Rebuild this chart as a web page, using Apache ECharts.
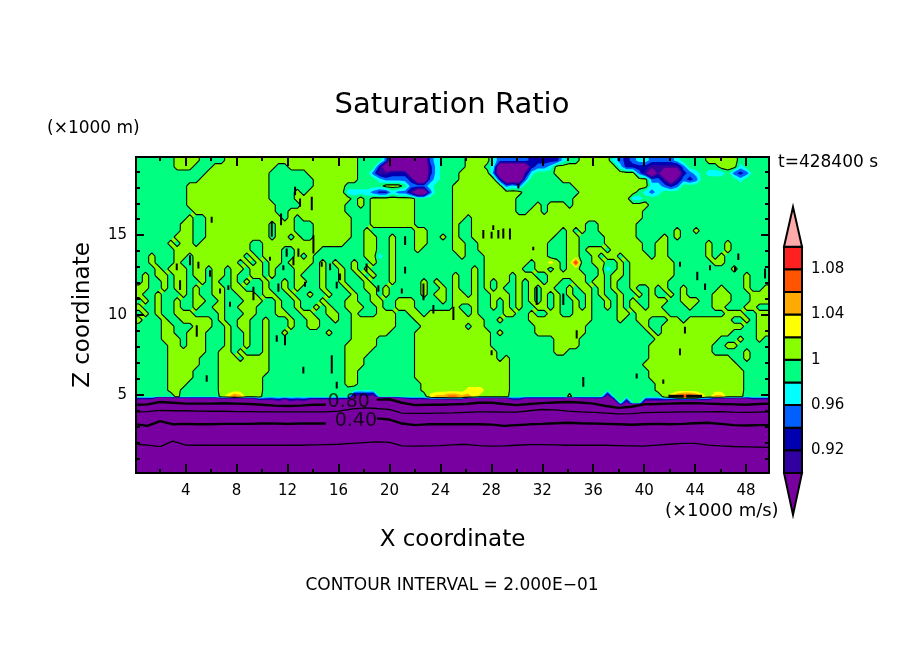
<!DOCTYPE html>
<html><head><meta charset="utf-8">
<style>html,body{margin:0;padding:0;background:#fff}#c{width:904px;height:654px}</style>
<script src="https://cdn.jsdelivr.net/npm/echarts@6/dist/echarts.min.js"></script></head>
<body><div id="c"></div>
<script>
// Supersaturated (>1) column ranges of each row, read top-down from the picture
const limeRows = [
"6-9 14-34 52-55 70-74 90-94","6-8 12-21 24-34 52-54 66-77 92-94","11-20 27-34 51-55 66-78","10-20 28-34 51-56 67-80",
"8-20 28-32 39-41 50-59 69-80","8-20 25 27-32 50-60 70-78","8-20 25 26-33 35 37-43 50-59 69-77","8-21 26-32 35 37-43 50-59 63 65-67 69-80",
"9-21 24-32 37-43 50-59 62-63 65-79","8 11-22 24 26-33 37-43 50-51 53-79","7-8 11-20 22-24 28-33 37-43 50 53-70 73-78",
"7-8 11-20 22-24 28-33 36 44-45 50 53-66 68 70 73-78 85 88","6-8 11-20 22-23 25 28-33 36-37 40 44-45 48 50 53-65 68-69 74-78 83 85",
"5 7-8 10-17 20-28 29-32 36-37 40 44-45 50-51 54-64 68-69 74-79 82-83 90 93","6-17 20-22 25-28 36-37 40 44 50-51 54-64 68-69 71-73 75-79 82-83 90 93",
"2 6-7 9-16 18 20-22 25 27 36-37 40 51 55-64 68-69 72 74-75 77-80 82-83 90 92","2 6 9-14 15 17 19 21-22 24 25-27 29 31 34 37 40 55-61 63-64 66 68-69 72-73 76 78-84 91-92",
"3 5 6-7 9-10 12-13 15-16 18-19 21 25-26 29 32 34 36 40 53 55-60 63-64 66 68-69 73-74 76 78-84 94",
"1 3-4 6-7 9-10 12-13 15 18-19 21 25 29 32 35 37 40 50 53 55 56-58 60-62 65-70 73 75-76 78-84 96",
"1 4 6-7 10 12 15 17 20 23 25-26 29 32 36 40 45 47 50 53 55 57 58 60 62-63 65-66 69-70 72-73 75 78-83 96",
"0-1 4 6-7 9 12-13 15-16 20 23 25 29 33 36-37 39 45 48 50 53 55 57 60 62 64 65 68 70 71 73 75 78 81 83 86 92 96 99",
"0 3 7 9 12-13 16-18 20-21 24 27 30 34 37 39 45 47-48 50-51 53 56 57-58 60 62 64 66 68 71 73 76 79 81 84 86 91-93 97-99",
"1 3 6 9-10 13 17-19 22 25 29 33-34 37-38 41-43 48 50-51 52-53 56 58 60 62 64 66 69 71 74 76 78 81-83 86-88 91-93 97-99",
"0 3 6 9 12-13 16-18 22 25 28 30 33-35 38 41-43 50 53 56 58 60 63 64 66 69 71 74 76 78-79 81-82 87 91-92 96-97",
"1 3 6-8 13 17-18 22-23 26-27 30-31 34 38-40 43-44 46-51 53 58-59 62 65-66 69-71 76-77 79-83 93-95 98-99",
"0 4 7-11 13 16-17 20 24 27-28 31 34-40 44-50 51-54 57 62-71 76 79-80 84-85 87-93 96 98-99",
"4-5 9-11 14 16-17 20 24 27-28 34-40 45-51 53-54 63-70 80 83-95 98-99","4-5 8-10 14 17 20 23 30 34-39 44-55 57 63-70 81 83-93 98-99",
"4-6 8-10 14 17 20 34-37 44-55 66-69 82-91 95 98","5-6 8-10 14 17 20 33-37 44-55 66-69 81-90 93-94","5-10 13-14 16 20 33-36 44-56 66-67 81-90 96",
"5-9 13-15 17-20 33-35 44-56 58 81-93 96","5-9 13-20 33-35 44-58 80-94","5-8 13-20 33-34 44-58 81-95","5-8 13-19 33-34 44-58 81-95",
"5-7 13-19 33-34 45-58 82-95","5-6 13-19 45-58 82-95","6 13-19 46-58 68 83-95"
];
// Patches: "row startColumn levelChars"; 0 purple,1 indigo,2 navy,3 blue,4 cyan,y yellow,o orange,r red-orange,s red
const patches = [
"0 39 300000034","1 38 2000000024","2 37 31122200024","3 38 4333320034","4 43 3334","5 33 44443224331003",
"0 56 433333222224","1 56 4000002334","2 56 3000014","3 57 20003","4 58 343",
"0 75 43234433334","1 76 42222111113","2 79 3101000234","3 81 33101323","4 81 44323","5 80 434","6 78 44",
"2 90 444","1 95 4","2 94 323","3 95 4","16 69 s","16 65 y","17 74 4","15 38 4",
"37 14 yro","37 46 yoorrooy","36 52 yyy","37 84 yrssry","37 91 oo"
];
const charValues = {"0":0.85,"1":0.91,"2":0.93,"3":0.95,"4":0.97,"y":1.03,"o":1.05,"r":1.07,"s":1.09};
const greenValue = 0.99, limeValue = 1.01, deepValue = 0.6, fringeValue = 0.981;
// Height of the dry layer's top for each column
const crestZ = [4.7,4.7,4.7,4.85,4.85,4.85,4.85,4.79,4.79,4.79,4.79,4.79,4.79,4.77,4.77,4.77,4.77,4.77,4.77,4.66,
4.66,4.68,4.6,4.7,4.58,4.66,4.6,4.7,4.7,4.7,4.7,4.7,4.7,4.7,4.93,4.95,4.9,4.96,4.88,4.83,
4.85,4.8,4.75,4.7,4.7,4.7,4.7,4.7,4.7,4.7,4.7,4.7,4.79,4.79,4.79,4.79,4.79,4.79,4.79,4.66,
4.66,4.77,4.77,4.77,4.77,4.77,4.77,4.77,4.81,4.81,4.77,4.77,4.77,4.77,4.97,4.7,4.35,4.56,4.45,4.45,
4.62,4.62,4.62,4.62,4.66,4.66,4.66,4.66,4.66,4.66,4.66,4.77,4.77,4.77,4.77,4.77,4.77,4.7,4.7,4.7];
// Contour lines in the dry layer
const lineX = [0.2,1,2,3,4,5,6,7,8,9,10,11,12,13,14,15,16,17,18,19,20,21,22,23,24,25,26,27,28,29,30,31,32,33,34,35,36,37,38,39,40,41,42,43,44,45,46,47,48,49,49.8];
const line080 = [4.38,4.4,4.55,4.5,4.45,4.45,4.45,4.47,4.45,4.42,4.38,4.32,4.3,4.32,4.38,4.38,null,null,null,4.7,4.72,4.5,4.35,4.38,4.38,4.4,4.42,4.5,4.5,4.42,4.35,4.42,4.48,4.52,4.55,4.52,4.45,4.3,4.18,4.25,4.4,4.42,4.45,4.47,4.48,4.45,4.42,4.4,4.38,4.42,4.45];
const line060 = [3.93,3.95,4.03,4,4,3.98,3.97,3.97,3.95,3.95,3.93,3.93,3.93,3.93,3.93,3.93,3.98,4.1,4.18,4.14,4.08,3.85,3.83,3.83,3.85,3.87,3.9,3.93,3.93,3.92,3.92,4,4.08,4.05,3.98,3.93,3.9,3.85,3.8,3.82,3.88,3.9,3.92,3.93,3.93,3.93,3.95,3.92,3.9,3.92,3.93];
const line040 = [3.15,3.05,3.35,3.15,3.18,3.15,3.15,3.18,3.18,3.18,3.2,3.2,3.18,3.2,3.2,3.2,null,null,null,3.52,3.45,3.2,3.1,3.15,3.15,3.15,3.15,3.15,3.13,3.05,3.1,3.15,3.18,3.22,3.25,3.22,3.2,3.18,3.15,3.12,3.15,3.18,3.15,3.18,3.22,3.25,3.18,3.1,3.08,3.1,3.1];
const line020 = [1.9,1.85,1.75,2.1,1.85,1.84,1.84,1.84,1.84,1.84,1.84,1.84,1.84,1.84,1.86,1.88,1.9,1.95,2.0,2.05,2.02,1.8,1.78,1.8,1.82,1.86,1.9,1.82,1.78,1.8,1.84,1.88,1.88,1.86,1.84,1.84,1.84,1.84,1.82,1.8,1.78,1.85,1.9,1.95,1.95,1.85,1.8,1.76,1.74,1.72,1.7];
const hotLine = [[41.9,4.91],[43.1,4.91],[43.1,null],[43.3,4.91],[44.55,4.91]];
// Tight closed contours that read as short black bars: [x, zTop, zBottom]
const tightLoops = [
[12.59,18.03,17.51],[13.9,17.41,16.57],[12.98,17.3,16.78],[11.49,16.36,15.63],[14.03,15.0,13.86],[10.76,15.84,14.9],[6.04,16.15,15.78],
[21.23,14.94,14.38],[15.34,13.23,12.81],[14.68,13.33,13.02],[10.62,13.65,13.4],[9.32,11.77,10.93],[11.28,11.98,11.45],[12.85,14.17,13.65],
[12.46,13.65,13.12],[11.67,13.12,12.81],[11.93,14.17,13.65],[3.3,13.23,12.81],[4.34,13.75,13.12],[5.0,13.33,12.92],[5.91,12.81,12.4],
[7.48,10.83,10.51],[15.86,12.08,11.66],[16.12,12.6,12.18],[19.13,11.87,11.45],[20.97,11.66,11.35],[22.67,11.98,10.93],[23.45,10.62,10.1],
[25.02,10.51,9.68],[18.2,13.23,12.71],[21.23,13.02,12.6],[13.37,12.08,11.77],[7.35,11.87,11.56],[3.56,12.18,11.56],[6.7,11.66,11.35],
[29.46,15.42,14.73],[28.94,15.42,14.8],[28.55,15.32,14.8],[28.15,15.63,15.32],[28.02,15.21,14.8],[27.37,15.32,14.8],[31.29,14.27,14.06],
[47.39,13.86,13.44],[45.17,13.12,12.81],[42.81,13.33,13.02],[47.13,13.02,12.71],[44.17,12.71,12.18],[44.78,11.98,11.56],[30.12,18.24,17.93],
[49.49,12.92,12.29],[31.56,11.77,10.62],[33.65,11.35,10.62],
[4.87,9.36,8.63],[5.65,6.23,5.81],[11.15,8.73,8.32],[11.8,8.73,8.11],[13.24,6.75,6.33],[15.86,5.81,5.39],[15.47,7.48,6.33],
[42.81,7.9,7.48],[28.02,7.79,7.48],[43.2,9.26,8.84],[35.22,6.12,5.5],[34.7,9.05,8.52],[39.41,6.33,6.02],[41.5,5.96,5.7]
];
const contourLabels = [[16.8,4.53,"0.80"],[17.36,3.36,"0.40"]];
// Colour levels
const fillLevels = [0,0.9,0.92,0.94,0.96,0.98,1,1.02,1.04,1.06,1.08,1.1];
const fillColors = ["#7800a0","#3000a0","#0000b0","#0060ff","#00ffff","#00ff80","#88ff00","#ffff00","#ffaa00","#ff5500","#ff2020","#ffaaaa"];
const barLow = 0.863, barHigh = 1.135;
const xMajor = [4,8,12,16,20,24,28,32,36,40,44,48];
const xMinor = [2,6,10,14,18,22,26,30,34,38,42,46];
const zMajor = [5,10,15];
const zMinor = [1,2,3,4,6,7,8,9,11,12,13,14,16,17,18,19];
const barTicks = [0.92,0.96,1,1.04,1.08];

const nCols = 100, nRows = 50, xMin = 0.1, xMax = 49.8, zMin = 0.1, zMax = 19.9, zTop = 19.887, zStep = 0.4, xStep = (xMax-xMin)/nCols;
const xc = c => xMin + (c+0.5)*xStep;
const zc = r => zTop - (r+0.5)*zStep;
const field = [];
for (let r=0;r<nRows;r++){ field.push(new Array(nCols).fill(greenValue)); }
limeRows.forEach((row,r)=>{ row.split(" ").forEach(t=>{ const p=t.split("-").map(Number); const b=p.length>1?p[1]:p[0]; for(let c=p[0];c<=b;c++) field[r][c]=limeValue; }); });
patches.forEach(s=>{ const p=s.split(" "); const r=+p[0], c0=+p[1]; [...p[2]].forEach((ch,i)=>{ if(charValues[ch]!==undefined) field[r][c0+i]=charValues[ch]; }); });
crestZ.forEach((crest,c)=>{
  let done=false;
  for(let r=36;r<nRows;r++){
    if(zc(r)>crest){ if(zc(r)-zStep<=crest && field[r][c]===greenValue) field[r][c]=fringeValue; continue; }
    if(!done){ const u=field[r-1][c]; const f=Math.max((zc(r-1)-crest)/zStep,0.12); field[r][c]=Math.max(u-(u-0.9)/f,0.3); done=true; }
    else field[r][c]=deepValue;
  }
});
const val=(r,c)=>field[Math.min(nRows-1,Math.max(0,r))][Math.min(nCols-1,Math.max(0,c))];
const F=v=>v.toFixed(2);
function levelPath(t,api,lineOnly){
  let d=[];
  for(let r=-1;r<nRows;r++) for(let c=-1;c<nCols;c++){
    const cs=[[c,r],[c+1,r],[c+1,r+1],[c,r+1]].map(q=>({x:xc(q[0]),z:zc(q[1]),v:val(q[1],q[0])}));
    let any=false,all=true; cs.forEach(k=>{ if(k.v>=t) any=true; else all=false; });
    if(!any||(lineOnly&&all)) continue;
    const poly=[],cross=[];
    for(let i=0;i<4;i++){
      const a=cs[i],b=cs[(i+1)%4];
      if(a.v>=t) poly.push([a.x,a.z]);
      if((a.v>=t)!==(b.v>=t)){ const f=(t-a.v)/(b.v-a.v); const p=[a.x+(b.x-a.x)*f,a.z+(b.z-a.z)*f]; poly.push(p); cross.push(p); }
    }
    if(lineOnly){
      for(let i=0;i+1<cross.length;i+=2){ const p=api.coord(cross[i]),q=api.coord(cross[i+1]); d.push("M"+F(p[0])+" "+F(p[1])+"L"+F(q[0])+" "+F(q[1])); }
    } else {
      d.push(poly.map((p,i)=>{ const q=api.coord(p); return (i?"L":"M")+F(q[0])+" "+F(q[1]); }).join("")+"Z");
    }
  }
  return d.join("");
}
const font="DejaVu Sans";
const mkLine=(ys,w)=>({type:"line",data:lineX.map((x,i)=>[x,ys[i]]),showSymbol:false,connectNulls:false,silent:true,lineStyle:{color:"#000",width:w},animation:false,z:5});
const xAx=(pos,vals,len,labels,extra)=>Object.assign({type:"value",gridIndex:0,position:pos,min:xMin,max:xMax,z:20,splitLine:{show:false},
  axisLine:{show:true,onZero:false,lineStyle:{color:"#000",width:2}},
  axisTick:{show:true,inside:true,length:len,customValues:vals,lineStyle:{color:"#000",width:2}},
  axisLabel:labels?{show:true,customValues:vals,color:"#000",fontSize:15,fontFamily:font,margin:11}:{show:false}},extra||{});
const yAx=(pos,vals,len,labels,extra)=>Object.assign({type:"value",gridIndex:0,position:pos,min:zMin,max:zMax,z:20,splitLine:{show:false},
  axisLine:{show:true,onZero:false,lineStyle:{color:"#000",width:2}},
  axisTick:{show:true,inside:true,length:len,customValues:vals,lineStyle:{color:"#000",width:2}},
  axisLabel:labels?{show:true,customValues:vals,color:"#000",fontSize:15,fontFamily:font,margin:9}:{show:false}},extra||{});
const txt=(x,y,s,size,align)=>({type:"text",x:x,y:y,silent:true,style:{text:s,fill:"#000",font:size+"px '"+font+"'",textAlign:align||"left",textVerticalAlign:"middle"}});
const bars=fillLevels.slice(1,-1).map((lo,i)=>[lo,fillLevels[i+2],fillColors[i+1]]);
const loopData=[]; tightLoops.forEach(k=>{ loopData.push([k[0],k[1]],[k[0],k[2]],[k[0],null]); });

const chart=echarts.init(document.getElementById("c"),null,{renderer:"canvas"});
chart.setOption({
  animation:false,backgroundColor:"#fff",
  title:{text:"Saturation Ratio",left:"center",top:86,textStyle:{fontFamily:font,fontSize:29,fontWeight:"normal",color:"#000"}},
  grid:[{left:136,top:157,width:633,height:316,show:false},{left:784,top:246.7,width:18,height:226.3,show:false}],
  xAxis:[
    xAx("bottom",xMajor,9,true,{name:"X coordinate",nameLocation:"middle",nameGap:56,nameTextStyle:{color:"#000",fontSize:23,fontFamily:font}}),
    xAx("bottom",xMinor,4,false),xAx("top",xMajor,9,false),xAx("top",xMinor,4,false),
    {type:"value",gridIndex:1,min:0,max:1,show:false}
  ],
  yAxis:[
    yAx("left",zMajor,8,true,{name:"Z coordinate",nameLocation:"middle",nameGap:41,nameTextStyle:{color:"#000",fontSize:23,fontFamily:font}}),
    yAx("left",zMinor,4,false),yAx("right",zMajor,8,false),yAx("right",zMinor,4,false),
    {type:"value",gridIndex:1,position:"right",min:0.9,max:1.1,splitLine:{show:false},axisLine:{show:false},axisTick:{show:false},
     axisLabel:{show:true,customValues:barTicks,margin:9,color:"#000",fontSize:15,fontFamily:font,formatter:v=>Math.abs(v-1)<1e-6?"1":(+v).toFixed(2)}}
  ],
  series:[
    {type:"custom",coordinateSystem:"cartesian2d",xAxisIndex:0,yAxisIndex:0,clip:true,silent:true,z:1,
     data:fillLevels.map((t,i)=>[t,i]),
     renderItem:(p,api)=>{const i=api.value(1);return {type:"path",shape:{pathData:levelPath(api.value(0),api,false)},style:{fill:fillColors[i],stroke:null}};}},
    {type:"custom",coordinateSystem:"cartesian2d",xAxisIndex:0,yAxisIndex:0,clip:true,silent:true,z:3,
     data:[[1]],
     renderItem:(p,api)=>({type:"path",shape:{pathData:levelPath(api.value(0),api,true)},style:{fill:null,stroke:"#000",lineWidth:1.1}})},
    mkLine(line080,2.4),mkLine(line060,1.3),mkLine(line040,2.4),mkLine(line020,1.3),
    {type:"line",data:hotLine,showSymbol:false,connectNulls:false,silent:true,lineStyle:{color:"#000",width:3},z:5},
    {type:"line",data:loopData,showSymbol:false,connectNulls:false,silent:true,lineStyle:{color:"#000",width:2},z:4},
    {type:"scatter",data:contourLabels,symbolSize:0,silent:true,z:6,
     label:{show:true,position:"inside",formatter:p=>p.data[2],color:"#000",fontSize:19,fontFamily:font}},
    {type:"custom",coordinateSystem:"cartesian2d",xAxisIndex:4,yAxisIndex:4,clip:false,silent:true,z:2,
     data:bars.map((b,i)=>[b[0],b[1],i]),
     renderItem:(p,api)=>{const a=api.coord([0,api.value(0)]),b=api.coord([1,api.value(1)]);
       return {type:"rect",shape:{x:a[0],y:b[1],width:b[0]-a[0],height:a[1]-b[1]},style:{fill:bars[api.value(2)][2],stroke:"#000",lineWidth:2}};}},
    {type:"custom",coordinateSystem:"cartesian2d",xAxisIndex:4,yAxisIndex:4,clip:false,silent:true,z:2,
     data:[[0.9,barLow,0],[1.1,barHigh,fillColors.length-1]],
     renderItem:(p,api)=>{const a=api.coord([0,api.value(0)]),b=api.coord([1,api.value(0)]),c=api.coord([0.5,api.value(1)]);
       return {type:"polygon",shape:{points:[a,b,c]},style:{fill:fillColors[api.value(2)],stroke:"#000",lineWidth:2}};}}
  ],
  graphic:[
    txt(47,129,"(\u00d71000 m)",17),
    txt(778,163,"t=428400 s",17),
    txt(665,511,"(\u00d71000 m/s)",18),
    txt(452,586,"CONTOUR INTERVAL = 2.000E\u221201",17,"center")
  ]
});
</script></body></html>
